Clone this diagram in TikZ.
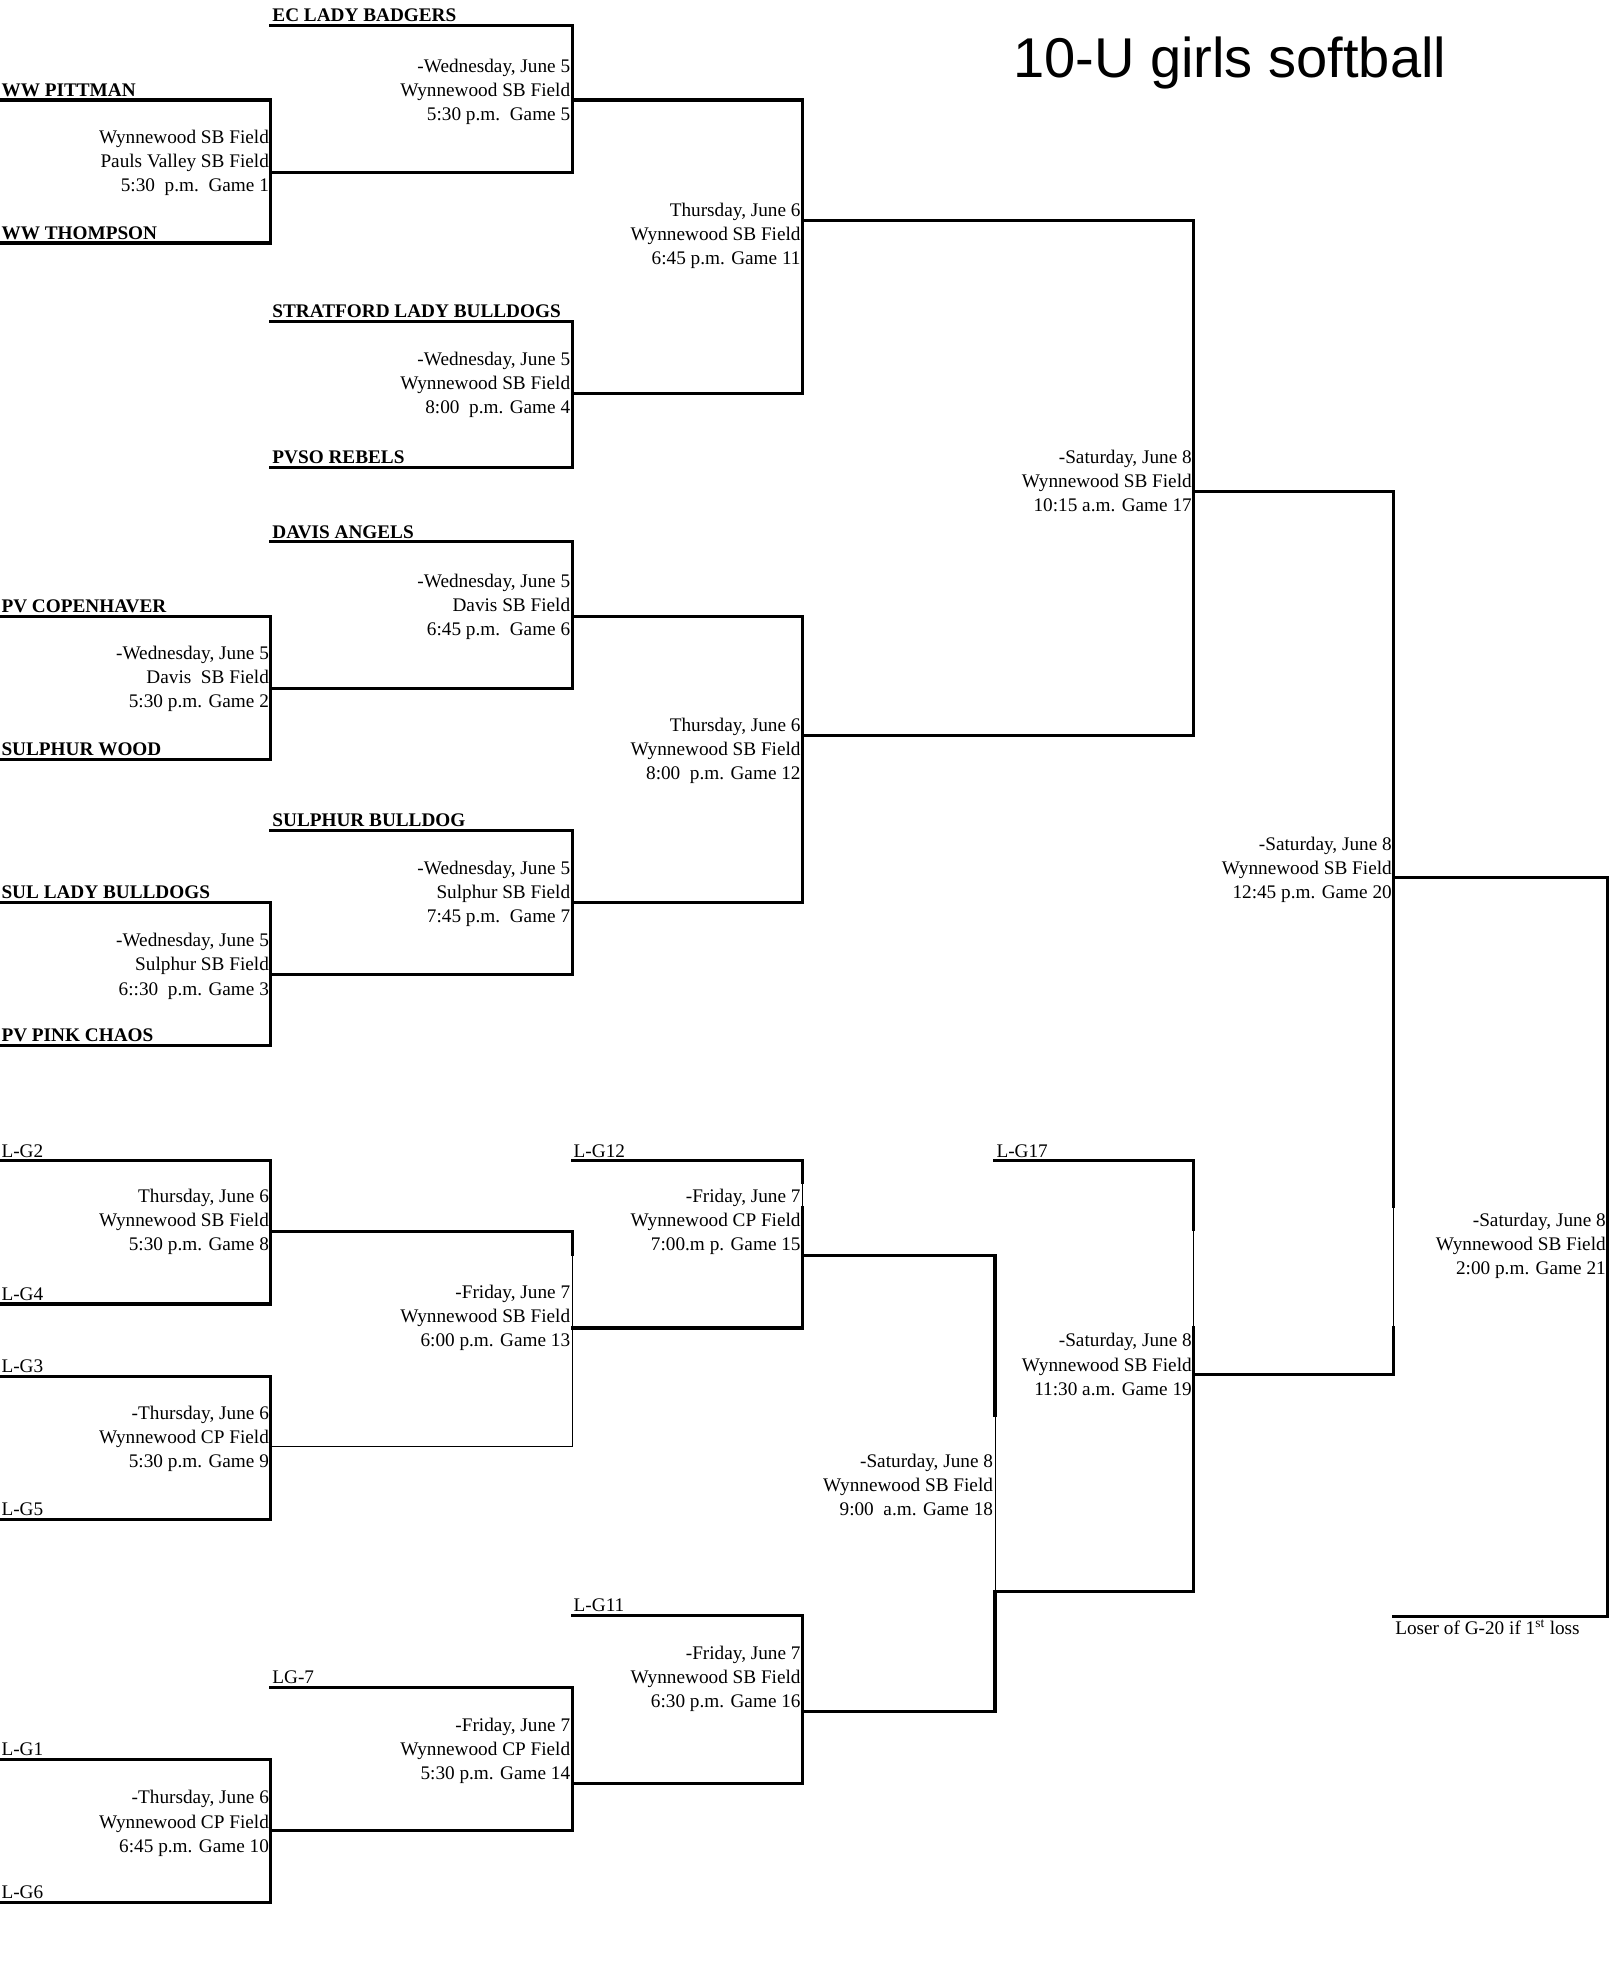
\documentclass[tikz,border=0pt]{standalone}
\usepackage{fontspec}
\setmainfont{Liberation Serif}
\newfontfamily\titlefont{Liberation Sans}
\tikzset{
  brk/.style={line width=2.5pt, line cap=rect, line join=miter},
  thinbrk/.style={line width=0.8pt},
  team/.style={anchor=base west, inner sep=0pt, font=\fontsize{15.2}{19}\selectfont\bfseries},
  slot/.style={anchor=base west, inner sep=0pt, font=\fontsize{15.2}{19}\selectfont},
  info/.style={anchor=base east, inner sep=0pt, font=\fontsize{15.2}{19}\selectfont},
}
\newcommand{\ginfo}[6]{%
  \node[info] (#1a) at (#2-1.4, #3+5-19) {#4};
  \node[info] (#1b) at (#2-1.4, #3+5) {#5};
  \node[info] (#1c) at (#2-1.4, #3+5+19) {#6};
}
\newcommand{\tlabel}[4]{\node[team] (#1) at (#2+1, #3-3) {#4};}
\newcommand{\slabel}[4]{\node[slot] (#1) at (#2+1, #3-3) {#4};}
\begin{document}
\begin{tikzpicture}[x=1pt, y=-1pt]
\fill[white] (0,0) rectangle (1273,1568);
\useasboundingbox (0,0) rectangle (1273,1568);

% title
\node[anchor=base west, inner sep=0pt, font=\titlefont\fontsize{44.3}{50}\selectfont] (title) at (800,61) {10-U girls softball};

% ---------------- upper bracket ----------------
\draw[brk] (214,20) -- (452,20) -- (452,136) -- (214,136);   % game 5
\draw[brk] (0,79) -- (214,79) -- (214,192) -- (0,192);       % game 1
\draw[brk] (452,79) -- (634,79) -- (634,311) -- (452,311);   % game 11
\draw[brk] (214,254) -- (452,254) -- (452,369) -- (214,369); % game 4
\draw[brk] (214,428) -- (452,428) -- (452,544) -- (214,544); % game 6
\draw[brk] (0,487) -- (214,487) -- (214,600) -- (0,600);     % game 2
\draw[brk] (452,487) -- (634,487) -- (634,713) -- (452,713); % game 12
\draw[brk] (214,656) -- (452,656) -- (452,770) -- (214,770); % game 7
\draw[brk] (0,713) -- (214,713) -- (214,826) -- (0,826);     % game 3
\draw[brk] (634,174) -- (943,174) -- (943,581) -- (634,581); % game 17
% game 20
\draw[brk] (943,388) -- (1101,388) -- (1101,953);
\draw[thinbrk] (1101,953) -- (1101,1049);
\draw[brk] (1101,1049) -- (1101,1086) -- (943,1086);
% game 21
\draw[brk] (1101,693) -- (1270,693) -- (1270,1277) -- (1101,1277);

\tlabel{t1}{214}{20}{EC LADY BADGERS}
\tlabel{t2}{0}{79}{WW PITTMAN}
\tlabel{t3}{0}{192}{WW THOMPSON}
\tlabel{t4}{214}{254}{STRATFORD LADY BULLDOGS}
\tlabel{t5}{214}{369}{PVSO REBELS}
\tlabel{t6}{214}{428}{DAVIS ANGELS}
\tlabel{t7}{0}{487}{PV COPENHAVER}
\tlabel{t8}{0}{600}{SULPHUR WOOD}
\tlabel{t9}{214}{656}{SULPHUR BULLDOG}
\tlabel{t10}{0}{713}{SUL LADY BULLDOGS}
\tlabel{t11}{0}{826}{PV PINK CHAOS}

\ginfo{g5}{452}{71}{-Wednesday, June 5}{Wynnewood SB Field}{5:30 p.m.\ \ Game 5}
\ginfo{g1}{214}{127}{Wynnewood SB Field}{Pauls Valley SB Field}{5:30\ \ p.m.\ \ Game 1}
\ginfo{g11}{634}{185}{Thursday, June 6}{Wynnewood SB Field}{6:45 p.m. Game 11}
\ginfo{g4}{452}{303}{-Wednesday, June 5}{Wynnewood SB Field}{8:00\ \ p.m. Game 4}
\ginfo{g6}{452}{478}{-Wednesday, June 5}{Davis SB Field}{6:45 p.m.\ \ Game 6}
\ginfo{g2}{214}{535}{-Wednesday, June 5}{Davis\ \ SB Field}{5:30 p.m. Game 2}
\ginfo{g12}{634}{592}{Thursday, June 6}{Wynnewood SB Field}{8:00\ \ p.m. Game 12}
\ginfo{g7}{452}{705}{-Wednesday, June 5}{Sulphur SB Field}{7:45 p.m.\ \ Game 7}
\ginfo{g3}{214}{762}{-Wednesday, June 5}{Sulphur SB Field}{6::30\ \ p.m. Game 3}
\ginfo{g17}{943}{380}{-Saturday, June 8}{Wynnewood SB Field}{10:15 a.m. Game 17}
\ginfo{g20}{1101}{686}{-Saturday, June 8}{Wynnewood SB Field}{12:45 p.m. Game 20}
\ginfo{g21}{1270}{983}{-Saturday, June 8}{Wynnewood SB Field}{2:00 p.m. Game 21}

\node[slot] (loser) at (1102,1291) {Loser of G-20 if 1\textsuperscript{st} loss};

% ---------------- lower bracket ----------------
\draw[brk] (0,917) -- (214,917) -- (214,1030) -- (0,1030);     % game 8
\draw[brk] (0,1087) -- (214,1087) -- (214,1200) -- (0,1200);   % game 9
% game 13
\draw[brk] (214,973) -- (452,973) -- (452,991);
\draw[thinbrk] (452,991) -- (452,1143) -- (214,1143);
% game 15
\draw[brk] (452,917) -- (634,917) -- (634,934);
\draw[thinbrk] (634,934) -- (634,954);
\draw[brk] (634,954) -- (634,1049) -- (452,1049);
% game 19
\draw[brk] (786,917) -- (943,917) -- (943,971);
\draw[thinbrk] (943,971) -- (943,1049);
\draw[brk] (943,1049) -- (943,1257) -- (786,1257);
% game 18
\draw[brk] (634,992) -- (786,992) -- (786,1118);
\draw[thinbrk] (786,1118) -- (786,1257);
\draw[brk] (786,1257) -- (786,1352) -- (634,1352);
\draw[brk] (452,1276) -- (634,1276) -- (634,1409) -- (452,1409); % game 16
\draw[brk] (214,1333) -- (452,1333) -- (452,1446) -- (214,1446); % game 14
\draw[brk] (0,1390) -- (214,1390) -- (214,1503) -- (0,1503);     % game 10

\slabel{s1}{0}{917}{L-G2}
\slabel{s2}{0}{1030}{L-G4}
\slabel{s3}{0}{1087}{L-G3}
\slabel{s4}{0}{1200}{L-G5}
\slabel{s5}{452}{917}{L-G12}
\slabel{s6}{786}{917}{L-G17}
\slabel{s7}{452}{1276}{L-G11}
\slabel{s8}{214}{1333}{LG-7}
\slabel{s9}{0}{1390}{L-G1}
\slabel{s10}{0}{1503}{L-G6}

\ginfo{g8}{214}{964}{Thursday, June 6}{Wynnewood SB Field}{5:30 p.m. Game 8}
\ginfo{g13}{452}{1040}{-Friday, June 7}{Wynnewood SB Field}{6:00 p.m. Game 13}
\ginfo{g9}{214}{1135}{-Thursday, June 6}{Wynnewood CP Field}{5:30 p.m. Game 9}
\ginfo{g15}{634}{964}{-Friday, June 7}{Wynnewood CP Field}{7:00.m p. Game 15}
\ginfo{g19}{943}{1078}{-Saturday, June 8}{Wynnewood SB Field}{11:30 a.m. Game 19}
\ginfo{g18}{786}{1173}{-Saturday, June 8}{Wynnewood SB Field}{9:00\ \ a.m. Game 18}
\ginfo{g16}{634}{1325}{-Friday, June 7}{Wynnewood SB Field}{6:30 p.m. Game 16}
\ginfo{g14}{452}{1382}{-Friday, June 7}{Wynnewood CP Field}{5:30 p.m. Game 14}
\ginfo{g10}{214}{1439}{-Thursday, June 6}{Wynnewood CP Field}{6:45 p.m. Game 10}
\end{tikzpicture}
\end{document}
